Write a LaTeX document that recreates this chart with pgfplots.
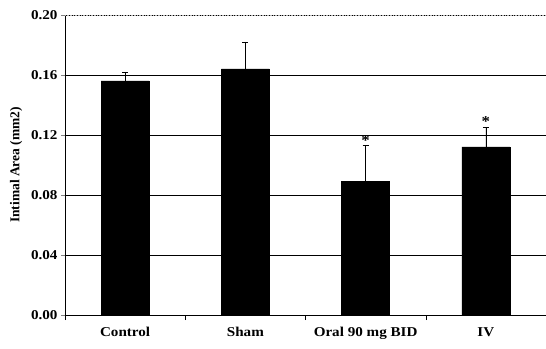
\documentclass[border=0pt]{standalone}
\usepackage{fontspec}
\setmainfont[FakeStretch=1.12]{Liberation Serif}
\newfontfamily\labfont{Liberation Serif}
\usepackage{pgfplots}
\pgfplotsset{compat=1.18}
\begin{document}
\begin{tikzpicture}[x=1pt,y=1pt]
\path[use as bounding box] (-65,-33) rectangle (481,315);
\begin{axis}[
  at={(0,0)}, anchor=south west,
  scale only axis, width=481pt, height=300pt,
  xmin=-0.5, xmax=3.5, ymin=0, ymax=0.2,
  axis x line*=bottom, axis y line*=left,
  xtick={0,1,2,3},
  xticklabels={Control,Sham,Oral 90 mg BID,IV},
  major x tick style={draw=none},
  minor xtick={-0.5,0.5,1.5,2.5},
  minor x tick style={black, thin},
  minor tick length=5pt,
  ytick={0,0.04,0.08,0.12,0.16,0.20},
  yticklabel style={/pgf/number format/.cd,fixed,fixed zerofill,precision=2},
  /pgf/number format/assume math mode=true,
  tick align=outside,
  major tick length=4pt,
  ymajorgrids, grid style={black, line width=0.6pt},
  tick label style={font=\fontsize{13.5}{15}\selectfont\bfseries},
  ylabel={Intimal Area (mm2)},
  ylabel style={font=\labfont\fontsize{13.5}{14}\selectfont\bfseries, yshift=2pt},
  xticklabel style={yshift=-5pt},
  axis line style={black, thin},
  ybar, bar width=48pt, bar shift=0pt,
  clip=false,
]
\addplot[fill=black, draw=black,
  error bars/.cd, y dir=plus, y explicit,
  error bar style={black, line width=0.7pt},
  error mark options={black, mark size=3pt, line width=0.7pt, rotate=90}]
  coordinates {
  (0,0.156) +- (0,0.006)
  (1,0.164) +- (0,0.018)
  (2,0.089) +- (0,0.024)
  (3,0.112) +- (0,0.013)
};
\draw[gray!60, densely dotted, line width=0.6pt] (axis cs:-0.5,0.2) -- (axis cs:3.5,0.2);
\node[above, inner sep=0.5pt, font=\fontsize{15}{15}\selectfont\bfseries] at (axis cs:2,0.1125) {*};
\node[above, inner sep=0.5pt, font=\fontsize{15}{15}\selectfont\bfseries] at (axis cs:3,0.125) {*};
\end{axis}
\end{tikzpicture}
\end{document}
